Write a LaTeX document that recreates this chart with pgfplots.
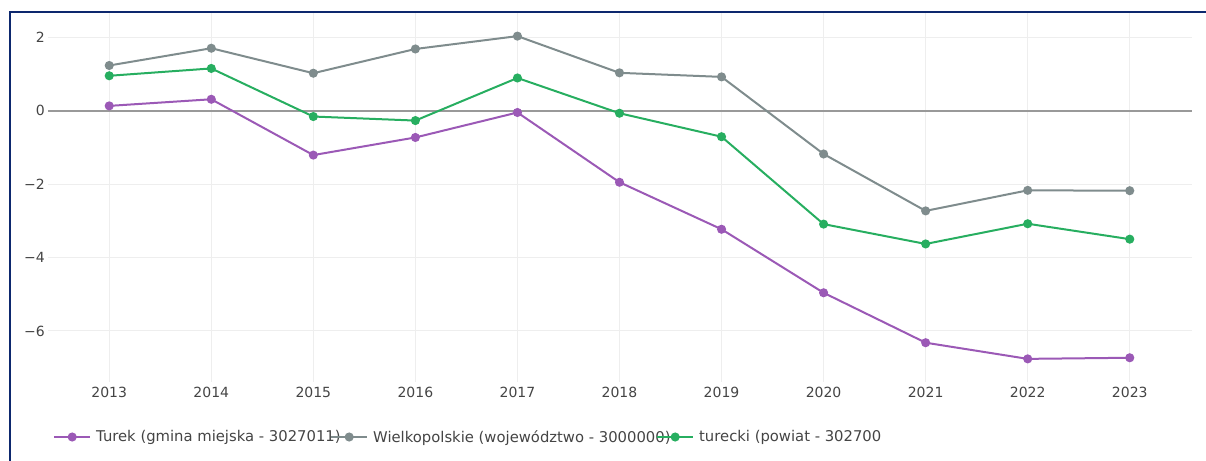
\documentclass[border=0pt]{standalone}
\usepackage{pgfplots}
\pgfplotsset{compat=1.18}
\usepackage{fontspec}
\setmainfont{DejaVu Sans}
\definecolor{cPurple}{HTML}{9B59B6}
\definecolor{cGray}{HTML}{7F8C8D}
\definecolor{cGreen}{HTML}{27AE60}
\definecolor{cGrid}{HTML}{EEEEEE}
\definecolor{cZero}{HTML}{999999}
\definecolor{cText}{HTML}{444444}
\definecolor{cNavy}{HTML}{0D286E}
\begin{document}
\begin{tikzpicture}
\useasboundingbox (0bp,0bp) rectangle (1206bp,461bp);
\draw[cNavy, line width=2bp] (10bp,0bp) -- (10bp,449bp) -- (1206bp,449bp);
\begin{axis}[
  at={(48bp,79bp)}, anchor=south west,
  width=1144bp, height=369bp, scale only axis,
  xmin=2012.4, xmax=2023.61, ymin=-7.39, ymax=2.66,
  axis line style={draw=none},
  tick style={draw=none},
  xtick={2013,2014,2015,2016,2017,2018,2019,2020,2021,2022,2023},
  xticklabels={2013,2014,2015,2016,2017,2018,2019,2020,2021,2022,2023},
  ytick={-6,-4,-2,0,2},
  yticklabels={−6,−4,−2,0,2},
  xmajorgrids, ymajorgrids,
  major grid style={draw=cGrid, line width=1bp},
  extra y ticks={0}, extra y tick labels={},
  extra y tick style={grid=major, major grid style={draw=cZero, line width=2bp}},
  xticklabel style={font=\fontsize{14bp}{17bp}\selectfont, text=cText, inner sep=0pt, anchor=north, yshift=-5bp},
  yticklabel style={font=\fontsize{14bp}{17bp}\selectfont, text=cText, inner sep=0pt, anchor=east, xshift=-3bp},
  every axis plot/.append style={line width=2bp, mark=*, mark size=3.5bp, mark options={solid}},
  legend image code/.code={\draw[mark repeat=2,mark phase=2,#1] plot coordinates {(0bp,0bp)(18bp,0bp)(36bp,0bp)};},
  legend columns=3,
  legend style={draw=none, fill=none, inner sep=0pt, at={(0,0)}, anchor=west, xshift=5bp, yshift=-55bp,
    nodes={inner sep=0pt, text=cText, font=\fontsize{14.8bp}{17bp}\selectfont},
    column sep=0pt,
    /tikz/every odd column/.append style={column sep=5bp}},
]
\addplot[cPurple] coordinates {(2013,0.13)(2014,0.31)(2015,-1.21)(2016,-0.73)(2017,-0.05)(2018,-1.95)(2019,-3.23)(2020,-4.96)(2021,-6.32)(2022,-6.76)(2023,-6.73)};
\addlegendentry{\makebox[234bp][l]{Turek (gmina miejska - 3027011)}}
\addplot[cGray] coordinates {(2013,1.23)(2014,1.70)(2015,1.02)(2016,1.68)(2017,2.03)(2018,1.03)(2019,0.92)(2020,-1.18)(2021,-2.73)(2022,-2.17)(2023,-2.18)};
\addlegendentry{\makebox[283bp][l]{Wielkopolskie (województwo - 3000000)}}
\addplot[cGreen] coordinates {(2013,0.95)(2014,1.15)(2015,-0.16)(2016,-0.27)(2017,0.89)(2018,-0.07)(2019,-0.71)(2020,-3.09)(2021,-3.63)(2022,-3.08)(2023,-3.50)};
\addlegendentry{turecki (powiat - 302700}
\end{axis}
\end{tikzpicture}
\end{document}
